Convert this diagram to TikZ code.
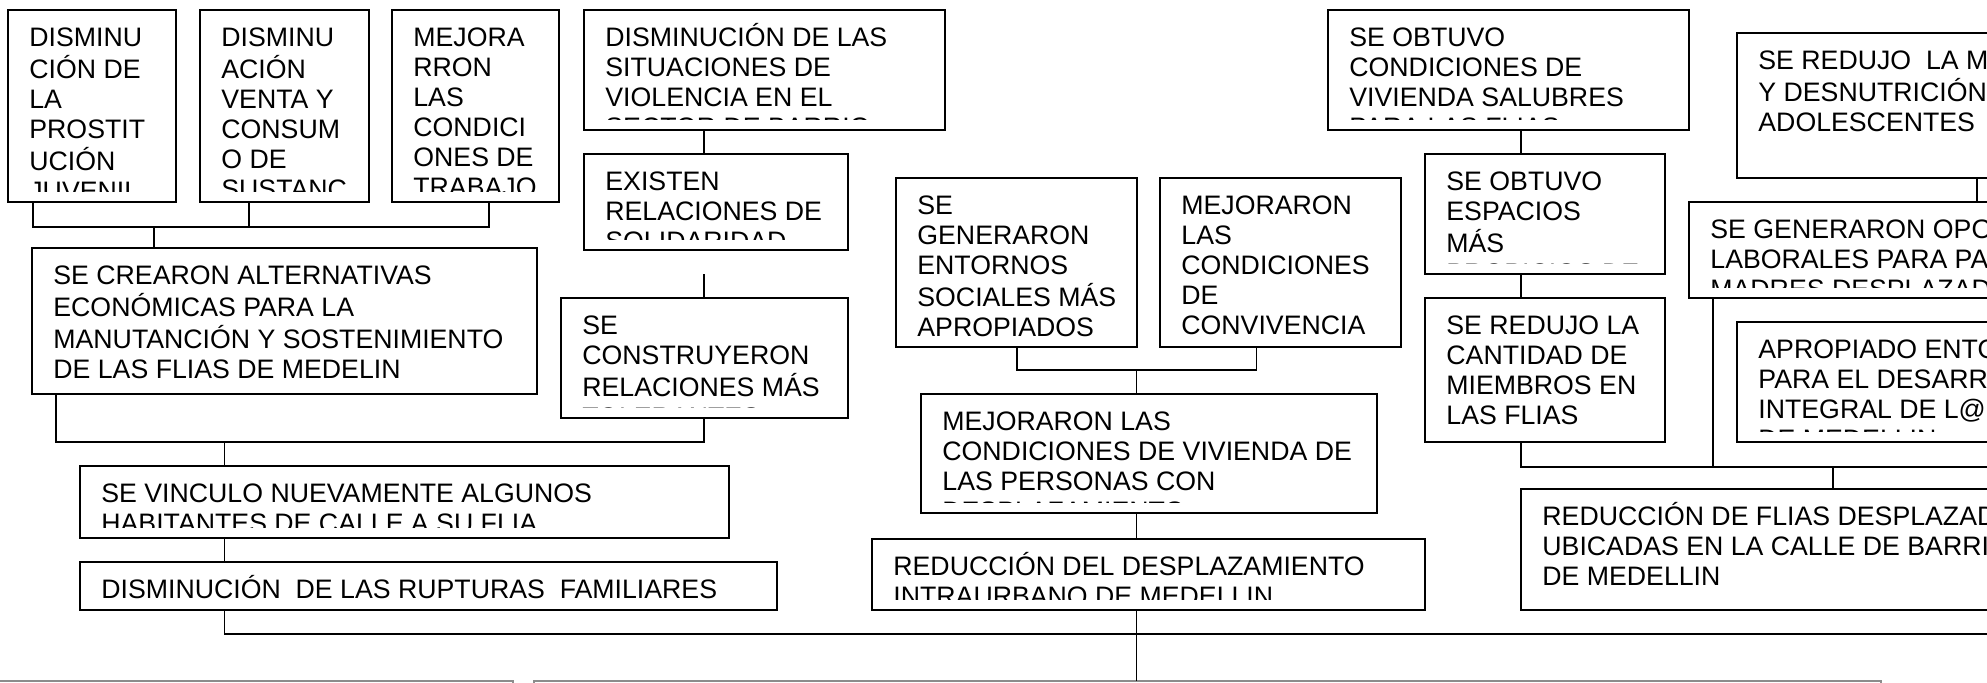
\documentclass[tikz,border=0pt]{standalone}
\usepackage{fontspec}
\setmainfont{Liberation Sans}
\usetikzlibrary{calc}
\tikzset{
  bxs/.style={draw=black, line width=0.9pt, inner sep=0pt, outer sep=0pt, fill=white, rectangle},
  gbx/.style={draw=black!45, line width=0.9pt, inner sep=0pt, outer sep=0pt, rectangle},
  conn/.style={draw=black, line width=0.9pt},
  txt/.style={anchor=base west, inner sep=0pt, font=\fontsize{13.35pt}{15pt}\selectfont}
}
\newcommand\mybox[6]{%
  \node[bxs, minimum width={(#4-#2)*0.5pt}, minimum height={(#5-#3)*0.5pt}, anchor=north west] (#1) at (#2,#3) {};
  \begin{scope}
    \clip (#2+2,#3+2) rectangle (#4-2,#5-11);
    \node[txt] at (#2+21,#3+36) {\begin{tabular}[t]{@{}l@{}}#6\end{tabular}};
  \end{scope}}
\begin{document}
\begin{tikzpicture}[x=0.5pt,y=-0.5pt]
\useasboundingbox (0,0) rectangle (1987,682);
\clip (0,0) rectangle (1987,682);
\fill[white] (0,0) rectangle (1987,682);

% left group
\mybox{a1}{8}{10}{176}{202}{DISMINU\\CIÓN DE\\LA\\PROSTIT\\UCIÓN\\JUVENIL}
\mybox{a2}{200}{10}{369}{202}{DISMINU\\ACIÓN\\VENTA Y\\CONSUM\\O DE\\SUSTANC}
\mybox{a3}{392}{10}{559}{202}{MEJORA\\RRON\\LAS\\CONDICI\\ONES DE\\TRABAJO}
\mybox{b}{32}{248}{537}{394}{SE CREARON ALTERNATIVAS\\ECONÓMICAS PARA LA\\MANUTANCIÓN Y SOSTENIMIENTO\\DE LAS FLIAS DE MEDELIN}
\mybox{c1}{584}{10}{945}{130}{DISMINUCIÓN DE LAS\\SITUACIONES DE\\VIOLENCIA EN EL\\SECTOR DE BARRIO}
\mybox{c2}{584}{154}{848}{250}{EXISTEN\\RELACIONES DE\\SOLIDARIDAD}
\mybox{g}{561}{298}{848}{418}{SE\\CONSTRUYERON\\RELACIONES MÁS\\TOLERANTES}
\mybox{h}{80}{466}{729}{538}{SE VINCULO NUEVAMENTE ALGUNOS\\HABITANTES DE CALLE A SU FLIA}
\mybox{i}{80}{562}{777}{610}{DISMINUCIÓN~ DE LAS RUPTURAS~ FAMILIARES}

% middle group
\mybox{e1}{896}{178}{1137}{347}{SE\\GENERARON\\ENTORNOS\\SOCIALES MÁS\\APROPIADOS}
\mybox{e2}{1160}{178}{1401}{347}{MEJORARON\\LAS\\CONDICIONES\\DE\\CONVIVENCIA}
\mybox{j}{921}{394}{1377}{513}{MEJORARON LAS\\CONDICIONES DE VIVIENDA DE\\LAS PERSONAS CON\\DESPLAZAMIENTO}
\mybox{k}{872}{539}{1425}{610}{REDUCCIÓN DEL DESPLAZAMIENTO\\INTRAURBANO DE MEDELLIN}

% right group
\mybox{d1}{1328}{10}{1689}{130}{SE OBTUVO\\CONDICIONES DE\\VIVIENDA SALUBRES\\PARA LAS FLIAS}
\mybox{d2}{1425}{154}{1665}{274}{SE OBTUVO\\ESPACIOS\\MÁS\\PROPICIOS DE}
\mybox{d3}{1425}{298}{1665}{442}{SE REDUJO LA\\CANTIDAD DE\\MIEMBROS EN\\LAS FLIAS}
\mybox{f1}{1737}{33}{2010}{178}{SE REDUJO~ LA MALNUTRICIÓN\\Y DESNUTRICIÓN\\ADOLESCENTES}
\mybox{f2}{1689}{202}{2010}{298}{SE GENERARON OPORTUNIDADES\\LABORALES PARA PADRES\\MADRES DESPLAZADAS}
\mybox{f3}{1737}{322}{2010}{442}{APROPIADO ENTORNO\\PARA EL DESARROLLO\\INTEGRAL DE L@S\\DE MEDELLIN}
\mybox{l}{1521}{489}{2010}{610}{REDUCCIÓN DE FLIAS DESPLAZADAS\\UBICADAS EN LA CALLE DE BARRIO\\DE MEDELLIN}

% bottom (cut off) boxes
\node[gbx, minimum width=523*0.5pt, minimum height=40*0.5pt, anchor=north west] (m1) at (-10,681) {};
\node[gbx, minimum width=1347*0.5pt, minimum height=40*0.5pt, anchor=north west] (m2) at (534,681) {};
\coordinate (barEnd) at (2010,634);
\coordinate (barR) at (2010,467);

% connectors left
\draw[conn] (a1.south -| 33,0) |- (488.6,227) -- (a3.south -| 488.6,0);
\draw[conn] (a2.south -| 248.6,0) -- (248.6,227);
\draw[conn] (153.6,227) -- (b.north -| 153.6,0);
\draw[conn] (c1.south -| 704.3,0) -- (c2.north -| 704.3,0);
\draw[conn] (704.3,274) -- (g.north -| 704.3,0);
\draw[conn] (b.south -| 56,0) |- (704.3,442) -- (g.south -| 704.3,0);
\draw[conn] (224.5,442) -- (h.north -| 224.5,0);
\draw[conn] (h.south -| 224.5,0) -- (i.north -| 224.5,0);
\draw[conn] (i.south -| 224.5,0) |- (barEnd);

% connectors middle
\draw[conn] (e1.south -| 1016.7,0) |- (1256.4,370) -- (e2.south -| 1256.4,0);
\draw[conn] (1136.5,370) -- (j.north -| 1136.5,0);
\draw[conn] (j.south -| 1136.5,0) -- (k.north -| 1136.5,0);
\draw[conn] (k.south -| 1136.5,0) -- (m2.north -| 1136.5,0);

% connectors right
\draw[conn] (d1.south -| 1521,0) -- (d2.north -| 1521,0);
\draw[conn] (d2.south -| 1521,0) -- (d3.north -| 1521,0);
\draw[conn] (d3.south -| 1521,0) |- (barR);
\draw[conn] (f1.south -| 1977,0) -- (f2.north -| 1977,0);
\draw[conn] (f2.south -| 1713,0) -- (1713,467);
\draw[conn] (1833,467) -- (l.north -| 1833,0);
\end{tikzpicture}
\end{document}
